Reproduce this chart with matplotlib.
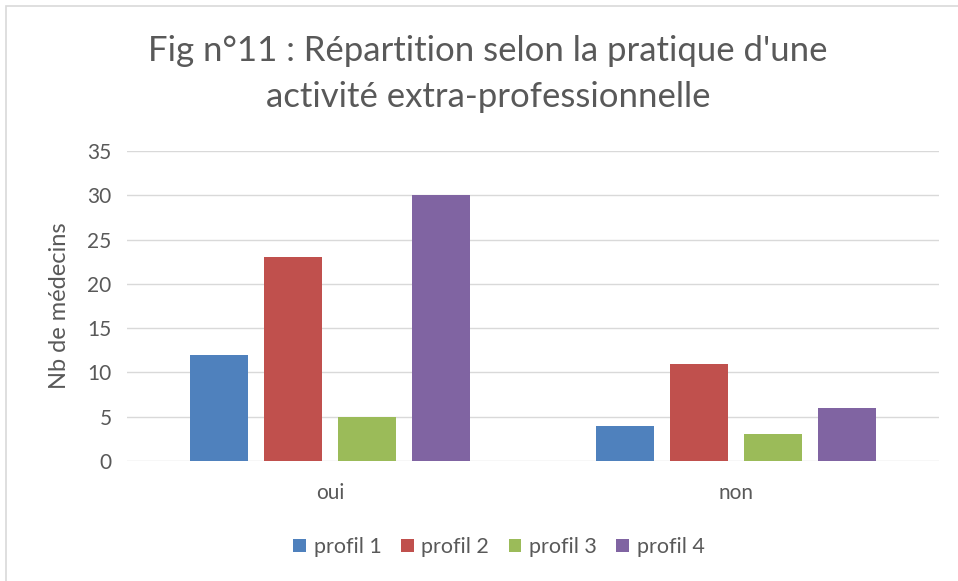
import numpy as np
import matplotlib.pyplot as plt
from matplotlib.patches import Rectangle

categories = ['oui', 'non']
series_names = ['profil 1', 'profil 2', 'profil 3', 'profil 4']
profil1 = [12, 4]
profil2 = [23, 11]
profil3 = [5, 3]
profil4 = [30, 6]
colors = ['#4F81BD', '#C0504D', '#9BBB59', '#8064A2']

plt.rcParams['font.family'] = ['Lato', 'DejaVu Sans']
txt = '#595959'

fig = plt.figure(figsize=(9.58, 5.81), dpi=100)
ax = fig.add_axes([127 / 958, 1 - 461 / 581, 812 / 958, 310 / 581])

x = np.arange(len(categories))
w = 0.143
step = 0.182
for k, vals in enumerate([profil1, profil2, profil3, profil4]):
    ax.bar(x + (k - 1.5) * step, vals, w, color=colors[k], label=series_names[k], zorder=3)

ax.set_xlim(-0.5, 1.5)
ax.set_ylim(0, 35)
ax.set_yticks(range(0, 36, 5))
ax.set_xticks(x)
ax.set_xticklabels(categories)
ax.grid(axis='y', color='#D9D9D9', linewidth=1, zorder=0)
for s in ax.spines.values():
    s.set_visible(False)
ax.tick_params(length=0, labelsize=15, colors=txt, pad=11)
ax.tick_params(axis='x', pad=16)
ax.set_ylabel('Nb de médecins', fontsize=17, color=txt, va='center')
ax.yaxis.set_label_coords(-0.083, 0.5)

fig.text(488 / 958, 1 - 74 / 581, "Fig n°11 : Répartition selon la pratique d'une\nactivité extra-professionnelle",
         ha='center', va='center', fontsize=25, color=txt, linespacing=1.55)

ax.legend(loc='center', bbox_to_anchor=(499 / 958, 1 - 547 / 581), bbox_transform=fig.transFigure,
          ncol=4, frameon=False, fontsize=15.5, labelcolor=txt, handlelength=0.6, handleheight=0.6,
          handletextpad=0.35, columnspacing=0.9)

fig.patches.append(Rectangle((6 / 958, -0.1), 1.2, 1 - 6 / 581 + 0.1, transform=fig.transFigure,
                             fill=False, edgecolor='#D9D9D9', linewidth=1.2))

fig.savefig('out.png', dpi=100, facecolor='white')
